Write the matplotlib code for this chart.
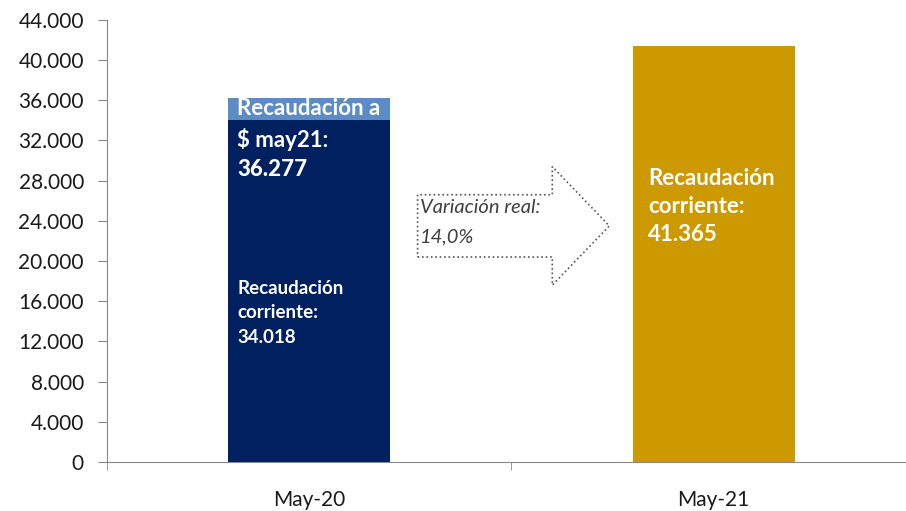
import matplotlib.pyplot as plt
from matplotlib.patches import Polygon

plt.rcParams['font.family'] = ['Lato', 'DejaVu Sans']

meses = ["May-20", "May-21"]
corriente = [34018, 41365]
ajustada_may21 = 36277
variacion = "14,0%"

azul = "#002060"
celeste = "#5b8cc6"
oro = "#cc9900"

fig = plt.figure(figsize=(9.06, 5.11), dpi=100)
ax = fig.add_axes([0.118, 0.096, 0.893, 0.865])

x = [0, 1]
w = 0.4
ax.bar(x[0], corriente[0], width=w, color=azul)
ax.bar(x[0], ajustada_may21 - corriente[0], bottom=corriente[0], width=w, color=celeste)
ax.bar(x[1], corriente[1], width=w, color=oro)

ax.set_xlim(-0.5, 1.5)
ax.set_ylim(0, 44000)
ax.set_yticks(range(0, 44001, 4000))
ax.set_yticklabels([f"{v:,}".replace(",", ".") for v in range(0, 44001, 4000)])
ax.set_xticks(x)
ax.set_xticklabels(meses)
ax.set_xticks([-0.5, 0.5, 1.5], minor=True)
ax.tick_params(axis='x', which='major', length=0, pad=20, labelsize=15)
ax.tick_params(axis='x', which='minor', length=6, color='#888888', direction='out')
ax.tick_params(axis='y', length=6.5, color='#888888', labelsize=15, pad=10)
for lab in ax.get_xticklabels() + ax.get_yticklabels():
    lab.set_color('#1a1a1a')
for s in ['top', 'right']:
    ax.spines[s].set_visible(False)
for s in ['left', 'bottom']:
    ax.spines[s].set_color('#888888')

# textos barra 2020
x0 = x[0] - w / 2 + 0.022
ax.text(x0, 35200, "Recaudación a", color='white', fontsize=16,
        fontweight='bold', va='center', ha='left')
ax.text(x0, 32060, "$ may21:", color='white', fontsize=16,
        fontweight='bold', va='center', ha='left')
ax.text(x0, 29070, f"{ajustada_may21:,}".replace(",", "."), color='white',
        fontsize=16, fontweight='black', va='center', ha='left')
ax.text(x0, 14830, "Recaudación\ncorriente:\n" + f"{corriente[0]:,}".replace(",", "."),
        color='white', fontsize=13.5, fontweight='bold', va='center', ha='left',
        linespacing=1.55)

# textos barra 2021
x1 = x[1] - w / 2 + 0.037
ax.text(x1, 25400, "Recaudación\ncorriente:\n" + f"{corriente[1]:,}".replace(",", "."),
        color='white', fontsize=16, fontweight='bold', va='center', ha='left',
        linespacing=1.42)

# flecha de variación
ax_x0, ax_x1, ax_xh = 0.268, 0.742, 0.601
y_b0, y_b1, y_h0, y_h1 = 20400, 26600, 17600, 29400
flecha = Polygon([(ax_x0, y_b0), (ax_xh, y_b0), (ax_xh, y_h0), (ax_x1, (y_b0 + y_b1) / 2),
                  (ax_xh, y_h1), (ax_xh, y_b1), (ax_x0, y_b1)], closed=True,
                 facecolor='white', edgecolor='#555555', linestyle=':', linewidth=1.2)
ax.add_patch(flecha)
ax.text(0.273, 25300, "Variación real:", fontsize=14.5, style='italic',
        color='#404040', va='center', ha='left')
ax.text(0.273, 22400, variacion, fontsize=14.5, style='italic',
        color='#404040', va='center', ha='left')

fig.savefig("out.png", dpi=100)
